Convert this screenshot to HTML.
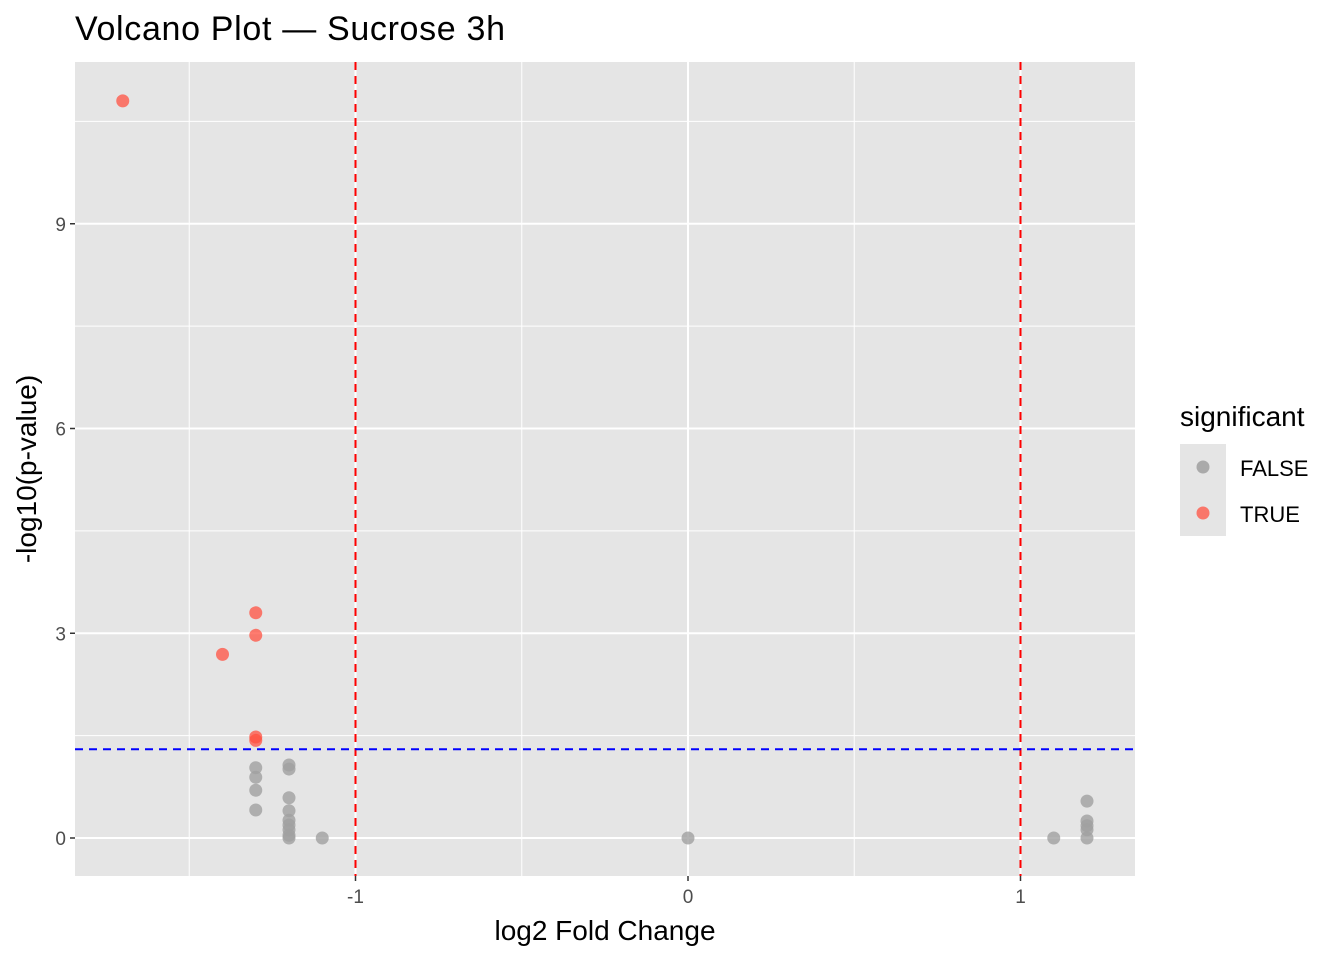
<!DOCTYPE html>
<html><head><meta charset="utf-8"><style>body{margin:0;background:#fff}svg{display:block;font-family:"Liberation Sans",Arial,sans-serif}</style></head>
<body>
<svg id="chart" width="1344" height="960">
<text x="75" y="40" font-size="34" textLength="430" lengthAdjust="spacing" fill="#000">Volcano Plot — Sucrose 3h</text>
<rect x="75" y="62" width="1060" height="814" fill="#e5e5e5"/>
<g id="grid"></g>
<g id="refs"></g>
<g id="points"></g>
<g id="axes"></g>
<text x="605" y="940" font-size="28" text-anchor="middle">log2 Fold Change</text>
<text transform="translate(36,469) rotate(-90)" font-size="28" text-anchor="middle">-log10(p-value)</text>
<g>
<text x="1180" y="426" font-size="28">significant</text>
<rect x="1180" y="444" width="46" height="46" fill="#e5e5e5"/>
<rect x="1180" y="490" width="46" height="46" fill="#e5e5e5"/>
<circle cx="1203" cy="467" r="6.5" fill="#a0a0a0" fill-opacity="0.85"/>
<circle cx="1203" cy="513" r="6.5" fill="#ff5040" fill-opacity="0.75"/>
<text x="1240" y="476" font-size="22">FALSE</text>
<text x="1240" y="522" font-size="22">TRUE</text>
</g>
</svg>
<script>
const xTicks=[-1,0,1];
const yTicks=[0,3,6,9];
const sigX=[-1.7,-1.3,-1.3,-1.4,-1.3,-1.3];
const sigY=[10.8,3.3,2.97,2.69,1.48,1.43];
const nsX=[-1.3,-1.3,-1.3,-1.3,-1.2,-1.2,-1.2,-1.2,-1.2,-1.2,-1.2,-1.2,-1.2,-1.1,0,1.1,1.2,1.2,1.2,1.2,1.2];
const nsY=[1.03,0.89,0.70,0.41,1.07,1.01,0.59,0.40,0.26,0.19,0.12,0.04,0,0,0,0,0.54,0.25,0.18,0.12,0];
const fcCut=[-1,1];
const pCut=1.3;
const NS='http://www.w3.org/2000/svg';
const L=75,R=1135,T=62,B=876;
const sx=v=>688+v*332.5;
const sy=v=>838-v*68.25;
function mk(p,tag,a){const e=document.createElementNS(NS,tag);for(const k in a)e.setAttribute(k,a[k]);document.getElementById(p).appendChild(e);return e;}
for(let v=-1.5;v<=1.5;v+=0.5){const minor=Math.abs(v%1)>0.01;
const e=mk('grid','line',{x1:sx(v),x2:sx(v),y1:T,y2:B,stroke:'#fff','stroke-width':minor?1:2});

}
for(let v=0;v<=10.5;v+=1.5){const minor=Math.abs(v%3)>0.01;
const e=mk('grid','line',{x1:L,x2:R,y1:sy(v),y2:sy(v),stroke:'#fff','stroke-width':minor?1:2});

}
fcCut.forEach(v=>{const e=mk('refs','line',{x1:sx(v),x2:sx(v),y1:T,y2:B,stroke:'#f00','stroke-width':2,'stroke-dasharray':'8 6'});

});
{const e=mk('refs','line',{x1:L,x2:R,y1:sy(pCut),y2:sy(pCut),stroke:'#00f','stroke-width':2,'stroke-dasharray':'8 6'});

}
nsX.forEach((x,i)=>{const e=mk('points','circle',{cx:sx(x),cy:sy(nsY[i]),r:6.5,fill:'#a0a0a0','fill-opacity':0.8});

});
sigX.forEach((x,i)=>{const e=mk('points','circle',{cx:sx(x),cy:sy(sigY[i]),r:6.5,fill:'#ff5040','fill-opacity':0.75});

});
xTicks.forEach(v=>{mk('axes','line',{x1:sx(v),x2:sx(v),y1:B,y2:B+5,stroke:'#333','stroke-width':1.5});
const t=mk('axes','text',{x:sx(v),y:B+27,'font-size':19,'text-anchor':'middle',fill:'#4d4d4d'});t.textContent=v;

});
yTicks.forEach(v=>{mk('axes','line',{x1:L-5,x2:L,y1:sy(v),y2:sy(v),stroke:'#333','stroke-width':1.5});
const t=mk('axes','text',{x:L-9,y:sy(v)+7,'font-size':19,'text-anchor':'end',fill:'#4d4d4d'});t.textContent=v;

});
</script>
</body></html>
